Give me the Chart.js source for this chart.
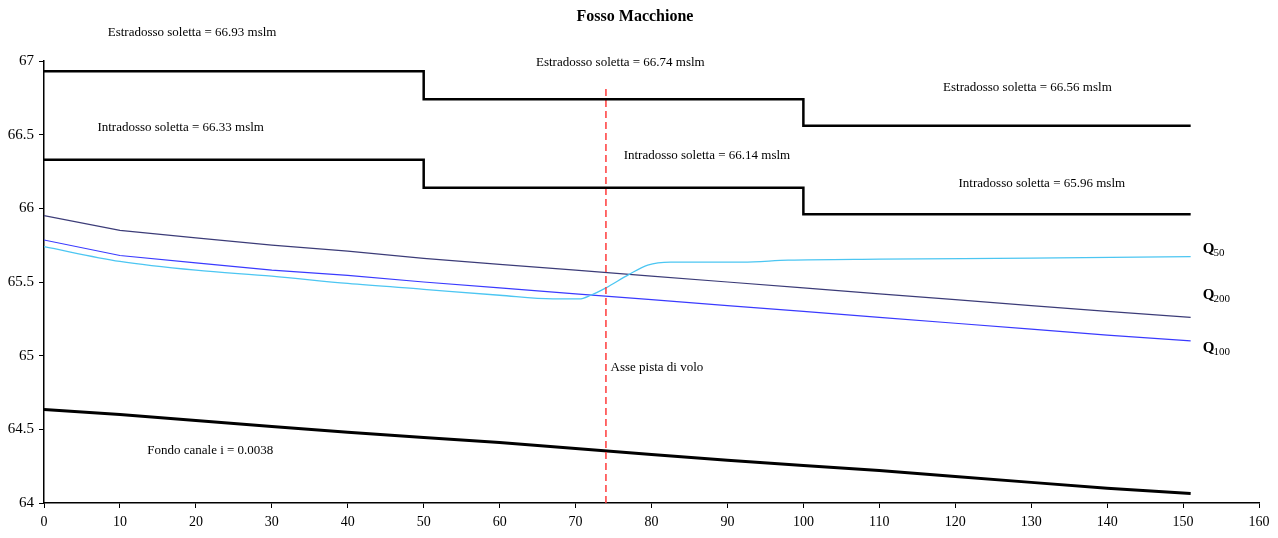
<!DOCTYPE html>
<html>
<head>
<meta charset="utf-8">
<script src="https://cdn.jsdelivr.net/npm/chart.js@4/dist/chart.umd.min.js"></script>
<style>
  html, body { margin: 0; padding: 0; background: #fff; }
  #wrap { width: 1278px; height: 538px; position: relative; }
</style>
</head>
<body>
<div id="wrap"><canvas id="chart" width="1278" height="538"></canvas></div>
<script>
// Profilo Fosso Macchione - quote in m s.l.m.
const stationX = [0, 10, 20, 30, 40, 50, 60, 70, 80, 90, 100, 110, 120, 130, 140, 151];
const q200 = [65.95, 65.85, 65.80, 65.75, 65.71, 65.66, 65.62, 65.58, 65.54, 65.50, 65.46, 65.42, 65.38, 65.34, 65.30, 65.26];
const q100 = [65.785, 65.68, 65.63, 65.58, 65.545, 65.50, 65.46, 65.42, 65.38, 65.34, 65.30, 65.26, 65.22, 65.18, 65.14, 65.10];
const fondo = [64.635, 64.60, 64.56, 64.52, 64.48, 64.445, 64.41, 64.37, 64.33, 64.29, 64.255, 64.22, 64.18, 64.14, 64.10, 64.065];

const q50X = [0, 10, 20, 30, 40, 50, 60, 67, 70.5, 72, 74, 77, 79.5, 82.5, 92, 98, 110, 130, 151];
const q50 = [65.74, 65.64, 65.58, 65.54, 65.49, 65.45, 65.41, 65.385, 65.385, 65.41, 65.46, 65.55, 65.615, 65.635, 65.635, 65.648, 65.655, 65.662, 65.672];

const solettaX = [0, 50, 50, 100, 100, 151];
const estradosso = [66.93, 66.93, 66.74, 66.74, 66.56, 66.56];
const intradosso = [66.33, 66.33, 66.14, 66.14, 65.96, 65.96];

const asseX = [74, 74];
const asseY = [64, 66.83];

const xTicks = [0, 10, 20, 30, 40, 50, 60, 70, 80, 90, 100, 110, 120, 130, 140, 150, 160];
const yTicks = [64, 64.5, 65, 65.5, 66, 66.5, 67];

// testi: [testo, x, y, allineamento]
const notes = [
    ['Estradosso soletta = 66.93 mslm', 19.5, 67.19, 'center'],
    ['Estradosso soletta = 66.74 mslm', 75.9, 66.99, 'center'],
    ['Estradosso soletta = 66.56 mslm', 129.5, 66.82, 'center'],
    ['Intradosso soletta = 66.33 mslm', 18.0, 66.546, 'center'],
    ['Intradosso soletta = 66.14 mslm', 87.3, 66.36, 'center'],
    ['Intradosso soletta = 65.96 mslm', 131.4, 66.17, 'center'],
    ['Fondo canale i = 0.0038', 21.9, 64.353, 'center'],
    ['Asse pista di volo', 74.6, 64.92, 'left']
];
const qLabels = [['Q', '50', 152.6, 65.72], ['Q', '200', 152.6, 65.41], ['Q', '100', 152.6, 65.05]];

const SERIF = '"Liberation Serif", "DejaVu Serif", serif';

function pts(xs, ys) {
    return xs.map((x, i) => ({ x: x, y: ys[i] }));
}

const textPlugin = {
    id: 'texts',
    afterDraw(chart) {
        const ctx = chart.ctx;
        const sx = chart.scales.x, sy = chart.scales.y;
        ctx.save();
        ctx.fillStyle = '#000';
        ctx.textBaseline = 'middle';

        ctx.font = 'bold 16px ' + SERIF;
        ctx.textAlign = 'center';
        ctx.fillText('Fosso Macchione', 635, 17);

        ctx.font = '13px ' + SERIF;
        notes.forEach(n => {
            ctx.textAlign = n[3];
            ctx.fillText(n[0], sx.getPixelForValue(n[1]), sy.getPixelForValue(n[2]));
        });

        ctx.textAlign = 'left';
        qLabels.forEach(q => {
            const px = sx.getPixelForValue(q[2]);
            const py = sy.getPixelForValue(q[3]);
            ctx.font = 'bold 15px ' + SERIF;
            ctx.fillText(q[0], px, py);
            const w = ctx.measureText(q[0]).width;
            ctx.font = '11px ' + SERIF;
            ctx.fillText(q[1], px + w - 1, py + 4);
        });
        ctx.restore();
    }
};

const lineDefaults = { pointRadius: 0, fill: false, tension: 0 };

new Chart(document.getElementById('chart'), {
    type: 'line',
    data: {
        datasets: [
            Object.assign({ label: 'Estradosso', data: pts(solettaX, estradosso), borderColor: '#000', borderWidth: 2.5 }, lineDefaults),
            Object.assign({ label: 'Intradosso', data: pts(solettaX, intradosso), borderColor: '#000', borderWidth: 2.5 }, lineDefaults),
            Object.assign({ label: 'Asse pista', data: pts(asseX, asseY), borderColor: '#ff3b3b', borderWidth: 1.5, borderDash: [7, 4] }, lineDefaults),
            Object.assign({}, lineDefaults, { label: 'Q50', data: pts(q50X, q50), borderColor: '#4cc6f2', borderWidth: 1.3, cubicInterpolationMode: 'monotone' }),
            Object.assign({ label: 'Q200', data: pts(stationX, q200), borderColor: '#3c3c78', borderWidth: 1.2 }, lineDefaults),
            Object.assign({ label: 'Q100', data: pts(stationX, q100), borderColor: '#3a3aff', borderWidth: 1.2 }, lineDefaults),
            Object.assign({ label: 'Fondo', data: pts(stationX, fondo), borderColor: '#000', borderWidth: 3 }, lineDefaults)
        ]
    },
    options: {
        responsive: false,
        animation: false,
        events: [],
        layout: { padding: { top: 61, right: 19, left: 0, bottom: 0 } },
        plugins: {
            legend: { display: false },
            title: { display: false },
            tooltip: { enabled: false }
        },
        scales: {
            x: {
                type: 'linear',
                min: 0,
                max: 160,
                afterBuildTicks: s => { s.ticks = xTicks.map(v => ({ value: v })); },
                afterFit: s => { s.height = 35; },
                ticks: { color: '#000', font: { family: SERIF, size: 14 }, padding: 6, maxRotation: 0, callback: v => String(v) },
                grid: { drawOnChartArea: false, drawTicks: true, tickLength: 5, color: '#000' },
                border: { color: '#000', width: 1.5 }
            },
            y: {
                type: 'linear',
                min: 64,
                max: 67,
                afterBuildTicks: s => { s.ticks = yTicks.map(v => ({ value: v })); },
                afterFit: s => { s.width = 44; },
                ticks: { color: '#000', font: { family: SERIF, size: 15 }, padding: 5, callback: v => String(v) },
                grid: { drawOnChartArea: false, drawTicks: true, tickLength: 5, color: '#000' },
                border: { color: '#000', width: 1.5 }
            }
        }
    },
    plugins: [textPlugin]
});
</script>
</body>
</html>
